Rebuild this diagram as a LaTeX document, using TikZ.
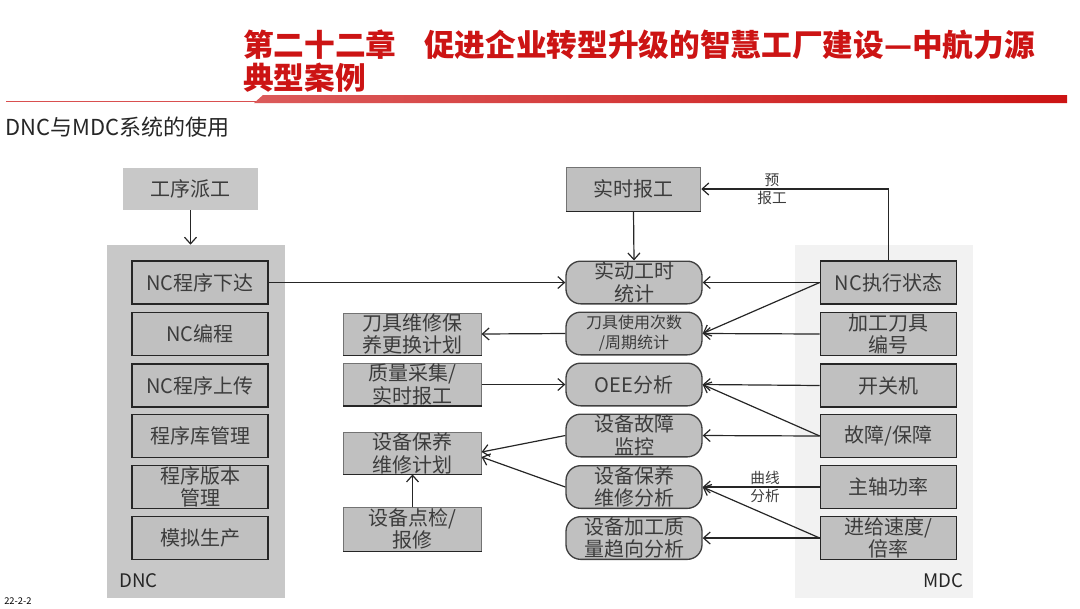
\documentclass[tikz,border=0pt]{standalone}
\usepackage{fontspec}
\setmainfont{Noto Sans CJK SC}
\usetikzlibrary{arrows.meta}
\definecolor{boxgray}{RGB}{192,192,192}
\definecolor{panelgray}{RGB}{200,200,200}
\definecolor{lightpanel}{RGB}{242,242,242}
\definecolor{txt}{RGB}{60,60,60}
\definecolor{titlered}{RGB}{204,20,20}
\begin{document}
\begin{tikzpicture}[x=0.75pt,y=-0.75pt,
 font=\fontsize{15pt}{17pt}\selectfont,
 dncbox/.style={draw=black!85,line width=1.2pt,fill=boxgray,minimum width=102pt,minimum height=32pt,inner sep=0pt,text=txt,align=center},
 midbox/.style={draw=black!55,line width=0.6pt,fill=boxgray,minimum width=103pt,minimum height=31.5pt,inner sep=0pt,text=txt,align=center},
 roundbox/.style={draw=black!75,line width=1pt,fill=boxgray,rounded corners=11pt,minimum width=102pt,minimum height=32pt,inner sep=0pt,text=txt,align=center},
 panel/.style={inner sep=0pt,minimum width=133.5pt,minimum height=264.75pt},
 conn/.style={draw=black!85,line width=0.9pt,-{Straight Barb[length=5pt,width=9pt]}},
 lbl/.style={font=\fontsize{11pt}{13.5pt}\selectfont,text=txt,align=center,inner sep=0pt},
 bottomedge/.style={draw=black!85,line width=1.2pt}
]
\useasboundingbox (0,0) rectangle (1080,608);

% header
\node[anchor=west,inner sep=0pt,text=titlered,font=\fontsize{23pt}{25pt}\selectfont\bfseries] (t1) at (243,45) {第二十二章\hspace{0.9em}促进企业转型升级的智慧工厂建设—中航力源};
\node[anchor=west,inner sep=0pt,text=titlered,font=\fontsize{23pt}{25pt}\selectfont\bfseries] (t2) at (243,78) {典型案例};
\draw[titlered!75,line width=0.9pt] (6,101.5) -- (258,101.5);
\shade[left color=titlered!70,right color=titlered] (254,103) -- (263,95) -- (1067,95) -- (1067,103) -- cycle;
\node[anchor=west,inner sep=0pt,text=black!85,font=\fontsize{16.5pt}{18pt}\selectfont] (sub) at (5,127) {DNC与MDC系统的使用};
\node[anchor=west,inner sep=0pt,font=\fontsize{7pt}{8pt}\selectfont] (foot) at (4,601) {22-2-2};

% panels
\node[panel,fill=panelgray] (dncp) at (196,421.5) {};
\node[panel,fill=lightpanel] (mdcp) at (884,421.5) {};
\node[anchor=west,inner sep=0pt,text=black!85,font=\fontsize{14pt}{16pt}\selectfont] (dnclab) at (119,581) {DNC};
\node[anchor=east,inner sep=0pt,text=black!85,font=\fontsize{14pt}{16pt}\selectfont] (mdclab) at (964,581) {MDC};

% top boxes
\node[fill=panelgray,minimum width=101pt,minimum height=31.5pt,inner sep=0pt,text=txt] (pg) at (190.5,189) {工序派工};
\node[midbox,minimum width=101pt,minimum height=33pt] (rt) at (633.5,189) {实时报工};
\draw[bottomedge] (rt.south west) -- (rt.south east);

% DNC boxes
\node[dncbox] (d1) at (200,282.5) {NC程序下达};
\node[dncbox] (d2) at (200,334) {NC编程};
\node[dncbox] (d3) at (200,385.5) {NC程序上传};
\node[dncbox] (d4) at (200,436) {程序库管理};
\node[dncbox] (d5) at (200,487) {程序版本\\管理};
\node[dncbox] (d6) at (200,538) {模拟生产};

% MDC boxes
\node[dncbox] (m1) at (888.5,282.5) {NC执行状态};
\node[dncbox] (m2) at (888.5,334) {加工刀具\\编号};
\node[dncbox] (m3) at (888.5,385.5) {开关机};
\node[dncbox] (m4) at (888.5,436) {故障/保障};
\node[dncbox] (m5) at (888.5,487) {主轴功率};
\node[dncbox] (m6) at (888.5,538) {进给速度/\\倍率};

% middle rounded boxes
\node[roundbox] (r1) at (634,282.5) {实动工时\\统计};
\node[roundbox,font=\fontsize{12pt}{15pt}\selectfont] (r2) at (634,333.5) {刀具使用次数\\/周期统计};
\node[roundbox] (r3) at (634,384.5) {OEE分析};
\node[roundbox] (r4) at (634,435.5) {设备故障\\监控};
\node[roundbox] (r5) at (634,487) {设备保养\\维修分析};
\node[roundbox] (r6) at (634,538) {设备加工质\\量趋向分析};

% middle left boxes
\node[midbox] (l1) at (412.5,334) {刀具维修保\\养更换计划};
\node[midbox] (l2) at (412.5,384.5) {质量采集/\\实时报工};
\node[midbox] (l3) at (412.5,453) {设备保养\\维修计划};
\node[midbox,minimum height=33pt] (l4) at (412.5,529) {设备点检/\\报修};
\foreach \b in {l1,l2,l3,l4} \draw[bottomedge] (\b.south west) -- (\b.south east);

% connectors
\draw[conn] (pg.south) -- (pg.south |- dncp.north);
\draw[conn] (rt.south) -- (r1.north);
\draw[conn] (m1.north) |- (rt.east);
\node[lbl] (yb) at (772,189) {预\\报工};
\draw[conn] (d1.east) -- (r1.west);
\draw[conn] (m1.west) -- (r1.east);
\draw[conn] (m1.west) -- (r2.east);
\draw[conn] (m2.west) -- (r2.east);
\draw[conn] (r2.west) -- (l1.east);
\draw[conn] (l2.east) -- (r3.west);
\draw[conn] (m3.west) -- (r3.east);
\draw[conn] (m4.west) -- (r3.east);
\draw[conn] (m4.west) -- (r4.east);
\draw[conn] (r4.west) -- ([yshift=0.75pt]l3.east);
\draw[conn] (r5.west) -- ([yshift=-3pt]l3.east);
\draw[conn] (l4.north) -- (l3.south);
\draw[conn] (m5.west) -- (r5.east);
\node[lbl] (qx) at (765,487) {曲线\\分析};
\draw[conn] (m6.west) -- (r5.east);
\draw[conn] (m6.west) -- (r6.east);
\end{tikzpicture}
\end{document}
